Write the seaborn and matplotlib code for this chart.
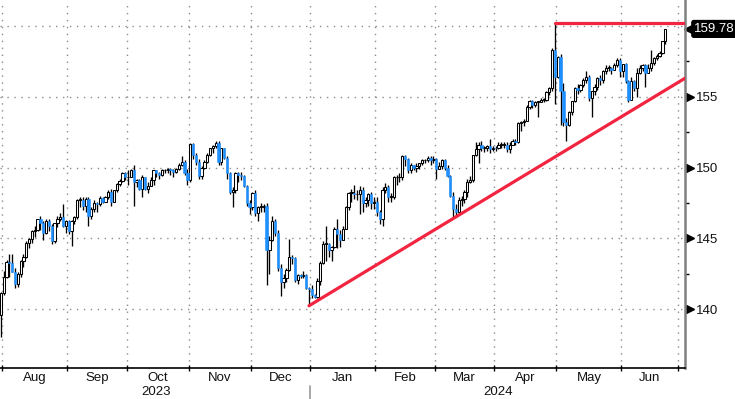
import numpy as np
import pandas as pd
import matplotlib.pyplot as plt
import matplotlib.transforms as mtransforms
import seaborn as sns

# daily OHLC, 28 Jul 2023 .. 21 Jun 2024 (weekdays)
opens = [
    139.6, 141.15,
    142.3, 143.35, 143.3, 142.6, 141.8, 142.5, 143.4, 143.7, 144.7, 144.95, 145.55, 145.6, 146.35, 146.1, 145.4, 146.2, 145.9, 144.8, 146.1, 146.4, 146.5, 145.9, 146.2,
    145.5, 146.2, 146.5, 147.7, 147.7, 147.3, 147.8, 146.6, 147.1, 147.5, 147.4, 147.85, 147.6, 147.9, 148.3, 147.6, 148.4, 148.85, 149.05, 149.6, 149.3,
    149.35, 149.85, 149.0, 149.1, 148.5, 149.3, 148.5, 148.7, 149.1, 149.8, 149.6, 149.5, 149.8, 149.8, 149.9, 149.85, 149.7, 149.9, 150.2, 150.4, 149.6, 149.1,
    151.65, 150.9, 150.4, 149.4, 150.0, 150.4, 150.9, 151.35, 151.5, 151.7, 150.4, 151.35, 150.7, 149.6, 148.3, 148.4, 149.6, 149.5, 149.4, 148.7, 147.5, 147.2,
    148.2, 146.8, 147.2, 147.2, 147.3, 144.2, 144.9, 146.2, 145.4, 142.9, 141.9, 142.2, 142.8, 143.7, 143.6, 142.1, 142.4, 142.35, 142.4, 141.5, 141.4,
    141.0, 140.9, 142.0, 143.3, 144.6, 144.6, 144.2, 144.4, 145.7, 145.3, 144.9, 145.7, 147.2, 148.2, 148.2, 148.1, 148.1, 148.4, 147.5, 147.7, 148.1, 147.5, 147.6,
    146.9, 146.4, 148.4, 148.6, 147.9, 147.9, 149.3, 149.3, 149.3, 150.8, 150.6, 149.8, 150.2, 150.0, 150.1, 150.3, 150.5, 150.5, 150.7, 150.5, 150.6,
    149.9, 150.1, 150.5, 150.0, 149.4, 148.0, 147.1, 146.9, 147.7, 147.8, 148.3, 149.0, 149.1, 150.9, 151.3, 151.6, 151.4, 151.4, 151.5, 151.3, 151.4,
    151.35, 151.6, 151.6, 151.6, 151.3, 151.6, 151.9, 151.8, 153.15, 153.2, 153.3, 154.3, 154.7, 154.4, 154.6, 154.6, 154.8, 154.8, 155.3, 155.6, 158.3, 156.4,
    157.8, 155.4, 153.2, 153.0, 153.9, 154.7, 155.6, 155.5, 155.8, 156.2, 156.4, 154.9, 155.4, 155.7, 156.3, 156.2, 156.8, 157.0, 157.0, 156.9, 157.2, 157.6, 156.8,
    157.3, 156.1, 154.8, 156.1, 155.6, 156.7, 157.0, 157.2, 156.7, 157.0, 157.4, 157.7, 157.9, 158.1, 158.9,
]
highs = [
    141.2, 142.7,
    143.5, 143.9, 143.9, 142.9, 142.6, 143.5, 143.9, 144.8, 145.0, 145.6, 145.9, 146.4, 146.6, 146.2, 146.4, 146.4, 146.0, 146.1, 146.6, 146.8, 147.4, 146.3, 146.3,
    146.3, 146.6, 147.8, 147.9, 147.9, 147.9, 147.9, 147.2, 147.7, 147.6, 148.0, 147.9, 148.0, 148.4, 148.5, 148.45, 148.9, 149.2, 149.7, 149.7, 149.8,
    149.9, 150.2, 149.2, 149.2, 149.5, 149.3, 149.0, 149.3, 149.8, 149.85, 149.7, 149.9, 149.9, 150.0, 150.0, 149.9, 150.0, 150.3, 150.8, 150.5, 149.9, 151.7,
    151.7, 151.0, 150.6, 150.1, 150.5, 151.0, 151.4, 151.6, 151.9, 151.9, 151.4, 151.4, 150.8, 149.7, 148.6, 149.7, 149.7, 149.7, 149.5, 148.8, 147.7, 148.3,
    148.4, 147.3, 147.5, 147.4, 147.5, 145.2, 146.6, 146.4, 145.6, 143.2, 142.5, 142.9, 144.95, 143.8, 143.7, 142.5, 142.5, 142.7, 142.5, 141.6, 141.7,
    141.1, 142.2, 143.4, 144.8, 145.9, 144.7, 144.5, 145.8, 146.4, 145.6, 145.9, 147.3, 148.3, 148.5, 148.8, 148.4, 148.7, 148.6, 147.9, 148.2, 148.3, 147.9, 147.9,
    147.0, 148.6, 148.9, 148.8, 148.2, 149.4, 149.5, 149.6, 150.9, 150.9, 150.7, 150.3, 150.2, 150.3, 150.3, 150.6, 150.6, 150.8, 150.8, 150.8, 150.7,
    150.4, 150.6, 150.6, 150.2, 149.5, 148.3, 147.4, 147.9, 148.0, 148.4, 149.2, 149.4, 150.9, 151.8, 151.8, 151.9, 151.5, 151.6, 152.0, 151.5, 151.5,
    151.8, 151.8, 151.8, 151.8, 151.8, 152.0, 152.0, 153.2, 153.3, 153.4, 154.4, 154.8, 154.8, 154.7, 154.7, 154.9, 154.9, 155.4, 155.7, 158.4, 160.2, 157.9,
    158.0, 156.0, 153.5, 154.0, 154.7, 155.7, 155.9, 155.9, 156.3, 156.8, 156.5, 155.4, 155.9, 156.4, 156.5, 156.9, 157.2, 157.2, 157.1, 157.4, 157.7, 157.7, 157.3,
    157.4, 156.2, 156.4, 156.2, 157.0, 157.2, 157.3, 157.3, 157.3, 158.3, 157.8, 158.0, 158.2, 158.9, 159.8,
]
lows = [
    138.05, 141.0,
    142.2, 142.3, 142.6, 141.5, 141.6, 142.3, 143.0, 143.6, 144.3, 144.7, 145.1, 145.5, 145.6, 144.9, 145.3, 145.5, 144.6, 144.7, 145.8, 146.2, 145.8, 145.4, 145.3,
    144.5, 146.0, 146.4, 147.2, 147.0, 146.9, 145.9, 146.4, 146.9, 146.9, 147.3, 147.5, 147.6, 147.8, 147.3, 147.6, 148.3, 148.7, 149.0, 149.1, 148.8,
    149.3, 147.3, 148.6, 148.4, 147.9, 148.4, 148.2, 148.7, 148.8, 149.3, 149.2, 149.4, 149.6, 149.6, 149.5, 149.3, 149.6, 149.8, 150.1, 149.5, 148.8, 149.0,
    150.6, 150.2, 149.2, 149.2, 149.9, 150.3, 150.8, 151.0, 151.4, 150.2, 150.2, 150.6, 149.2, 148.1, 147.2, 148.2, 149.0, 149.1, 148.6, 147.3, 146.7, 147.0,
    146.6, 146.2, 146.9, 146.9, 141.7, 142.5, 144.8, 145.2, 142.7, 140.95, 141.5, 141.9, 142.7, 143.2, 141.9, 141.8, 142.2, 142.2, 141.4, 140.25, 140.8,
    140.8, 140.8, 141.7, 143.2, 143.4, 143.7, 143.4, 144.3, 144.3, 144.4, 144.9, 145.7, 147.0, 147.6, 147.8, 147.7, 146.7, 146.9, 147.2, 147.3, 147.1, 147.1, 146.6,
    146.0, 145.9, 148.2, 147.6, 147.6, 147.8, 148.8, 149.0, 149.1, 150.1, 149.6, 149.6, 149.8, 149.7, 149.9, 150.2, 150.3, 150.4, 150.2, 150.3, 149.2,
    149.9, 149.9, 149.8, 149.3, 147.9, 146.5, 146.5, 146.7, 147.3, 147.5, 147.9, 148.9, 149.0, 150.8, 150.3, 151.2, 151.1, 151.2, 151.0, 151.2, 151.2,
    151.3, 151.4, 151.4, 151.1, 151.0, 151.6, 151.6, 151.7, 152.6, 152.9, 153.3, 154.1, 154.2, 154.3, 153.6, 154.6, 154.6, 154.7, 155.1, 155.4, 154.5, 156.3,
    153.0, 152.9, 151.9, 152.9, 153.7, 154.6, 155.2, 155.3, 155.7, 156.0, 154.7, 153.6, 155.1, 155.5, 155.8, 156.0, 156.6, 156.8, 156.6, 156.9, 157.1, 156.4, 156.4,
    156.0, 154.6, 154.8, 155.4, 155.0, 156.6, 156.8, 155.7, 156.7, 156.8, 157.2, 157.6, 157.8, 158.0, 158.7,
]
closes = [
    141.15, 142.3,
    143.35, 143.3, 142.6, 141.8, 142.5, 143.4, 143.7, 144.7, 144.95, 145.55, 145.6, 146.35, 146.1, 145.4, 146.2, 145.9, 144.8, 146.1, 146.4, 146.5, 145.9, 146.2, 145.5,
    146.2, 146.5, 147.7, 147.7, 147.3, 147.8, 146.6, 147.1, 147.5, 147.4, 147.85, 147.6, 147.9, 148.3, 147.6, 148.4, 148.85, 149.05, 149.6, 149.3, 149.35,
    149.85, 149.0, 149.1, 148.5, 149.3, 148.5, 148.7, 149.1, 149.8, 149.6, 149.5, 149.8, 149.8, 149.9, 149.85, 149.7, 149.9, 150.2, 150.4, 149.6, 149.1, 151.65,
    150.9, 150.4, 149.4, 150.0, 150.4, 150.9, 151.35, 151.5, 151.7, 150.4, 151.35, 150.7, 149.6, 148.3, 148.4, 149.6, 149.5, 149.4, 148.7, 147.5, 147.2, 148.2,
    146.8, 147.2, 147.2, 147.3, 144.2, 144.9, 146.2, 145.4, 142.9, 141.9, 142.2, 142.8, 143.7, 143.6, 142.1, 142.4, 142.35, 142.4, 141.5, 141.4, 141.0,
    140.9, 142.0, 143.3, 144.6, 144.6, 144.2, 144.4, 145.7, 145.3, 144.9, 145.7, 147.2, 148.2, 148.2, 148.1, 148.1, 148.4, 147.5, 147.7, 148.1, 147.5, 147.6, 146.9,
    146.4, 148.4, 148.6, 147.9, 147.9, 149.3, 149.3, 149.3, 150.8, 150.6, 149.8, 150.2, 150.0, 150.1, 150.3, 150.5, 150.5, 150.7, 150.5, 150.6, 149.9,
    150.1, 150.5, 150.0, 149.4, 148.0, 147.1, 146.9, 147.7, 147.8, 148.3, 149.0, 149.1, 150.9, 151.3, 151.6, 151.4, 151.4, 151.5, 151.3, 151.4, 151.35,
    151.6, 151.6, 151.6, 151.3, 151.6, 151.9, 151.8, 153.15, 153.2, 153.3, 154.3, 154.7, 154.4, 154.6, 154.6, 154.8, 154.8, 155.3, 155.6, 158.3, 156.4, 157.8,
    155.4, 153.2, 153.0, 153.9, 154.7, 155.6, 155.5, 155.8, 156.2, 156.4, 154.9, 155.4, 155.7, 156.3, 156.2, 156.8, 157.0, 157.0, 156.9, 157.2, 157.6, 156.8, 157.3,
    156.1, 154.8, 156.1, 155.6, 156.7, 157.0, 157.2, 156.7, 157.0, 157.4, 157.7, 157.9, 158.1, 158.9, 159.75,
]
last_price = 159.78

# red lines drawn on the chart
trend_dates = ["2023-12-28", "2024-07-02"]
trend_prices = [140.25, 156.3]
peak_dates = ["2024-04-29", "2024-07-02"]
peak_prices = [160.2, 160.2]

ytick_vals = [140, 145, 150, 155, 160]
ytick_labels = ["140", "145", "150", "155", ""]
years = ["2023", "2024"]

RED = "#f2243f"
BLUE = "#1e8fff"

sns.set_theme(style="white")
plt.rcParams["font.family"] = ["Liberation Sans", "DejaVu Sans"]

cal = pd.bdate_range("2023-07-28", "2024-07-02")
o = np.array(opens); h = np.array(highs); l = np.array(lows); c = np.array(closes)
x = np.arange(len(c))

fig = plt.figure(figsize=(7.35, 3.99), dpi=100)
ax = fig.add_axes([0, 31 / 399, 685 / 735, 368 / 399])

# wicks + bodies
ax.vlines(x, l, h, color="black", lw=0.95, zorder=2)
up = c >= o
body = np.maximum(np.abs(c - o), 0.06)
ax.bar(x[up], body[up], bottom=np.minimum(o, c)[up], width=0.8,
       color="white", edgecolor="black", linewidth=0.75, zorder=3)
ax.bar(x[~up], body[~up], bottom=c[~up], width=0.8,
       color=BLUE, edgecolor=BLUE, linewidth=0.4, zorder=3)

# trend + resistance
tpos = cal.get_indexer(pd.to_datetime(trend_dates))
ppos = cal.get_indexer(pd.to_datetime(peak_dates))
sns.lineplot(x=tpos, y=trend_prices, color=RED, lw=2.3, ax=ax, zorder=4)
sns.lineplot(x=ppos, y=peak_prices, color=RED, lw=2.3, ax=ax, zorder=4)

ax.set_xlim(-0.3, 242)
ax.set_ylim(135.86, 161.82)

# month ticks sit a bit before each month's first trading day
month_start = [cal.get_indexer([cal[cal.to_period("M") == p][0]])[0]
               for p in pd.period_range("2023-08", "2024-07", freq="M")]
mticks = np.array(month_start) - 1.5
ax.set_xticks(mticks)
ax.set_xticklabels([])
ax.tick_params(axis="x", direction="inout", length=5, width=1, color="black", bottom=True)

bt = mtransforms.blended_transform_factory(ax.transData, ax.transAxes)
for i in range(len(mticks) - 1):
    ax.text((mticks[i] + mticks[i + 1]) / 2, -0.012, cal[month_start[i]].strftime("%b"),
            transform=bt, ha="center", va="top", fontsize=9.5, color="#111111")
jan = mticks[5]
ax.text((mticks[0] + jan) / 2, -0.0815, years[0], transform=bt, ha="center", va="bottom",
        fontsize=9.5, color="#111111")
ax.text((jan + 242) / 2, -0.0815, years[1], transform=bt, ha="center", va="bottom",
        fontsize=9.5, color="#111111")
ax.plot([jan, jan], [-0.05, -0.09], transform=bt, color="#a0a0a0", lw=1.3, clip_on=False)

# right axis
ax.yaxis.tick_right()
ax.set_yticks(ytick_vals)
ax.set_yticklabels(ytick_labels)
ax.set_yticks([142.5, 147.5, 152.5, 157.5], minor=True)
ax.tick_params(axis="y", which="major", length=0, pad=8, labelsize=9.5, labelcolor="#111111")
ax.tick_params(axis="y", which="minor", right=True, length=3, width=1, color="black")
rt = mtransforms.blended_transform_factory(ax.transAxes, ax.transData)
for v in ytick_vals[:-1]:
    ax.plot(1.0075, v, marker=">", ms=5.5, color="black", transform=rt, clip_on=False)

ax.grid(True, which="major", color="#8c8c8c", linestyle=(0, (1, 4)), lw=1)
for s in ["top", "left"]:
    ax.spines[s].set_visible(False)
ax.spines["right"].set_color("#808080")
ax.spines["right"].set_linewidth(1.8)
ax.spines["bottom"].set_color("black")
ax.spines["bottom"].set_linewidth(1.2)

# last price tag
ax.plot(1.0065, last_price, marker="<", ms=7, color="black", transform=rt, clip_on=False)
ax.text(1.0135, last_price, f"{last_price:.2f}", transform=rt, color="white", fontsize=9.5,
        va="center", ha="left",
        bbox=dict(boxstyle="round,pad=0.18,rounding_size=0.15", fc="black", ec="black"))

fig.savefig("out.png", dpi=100)
